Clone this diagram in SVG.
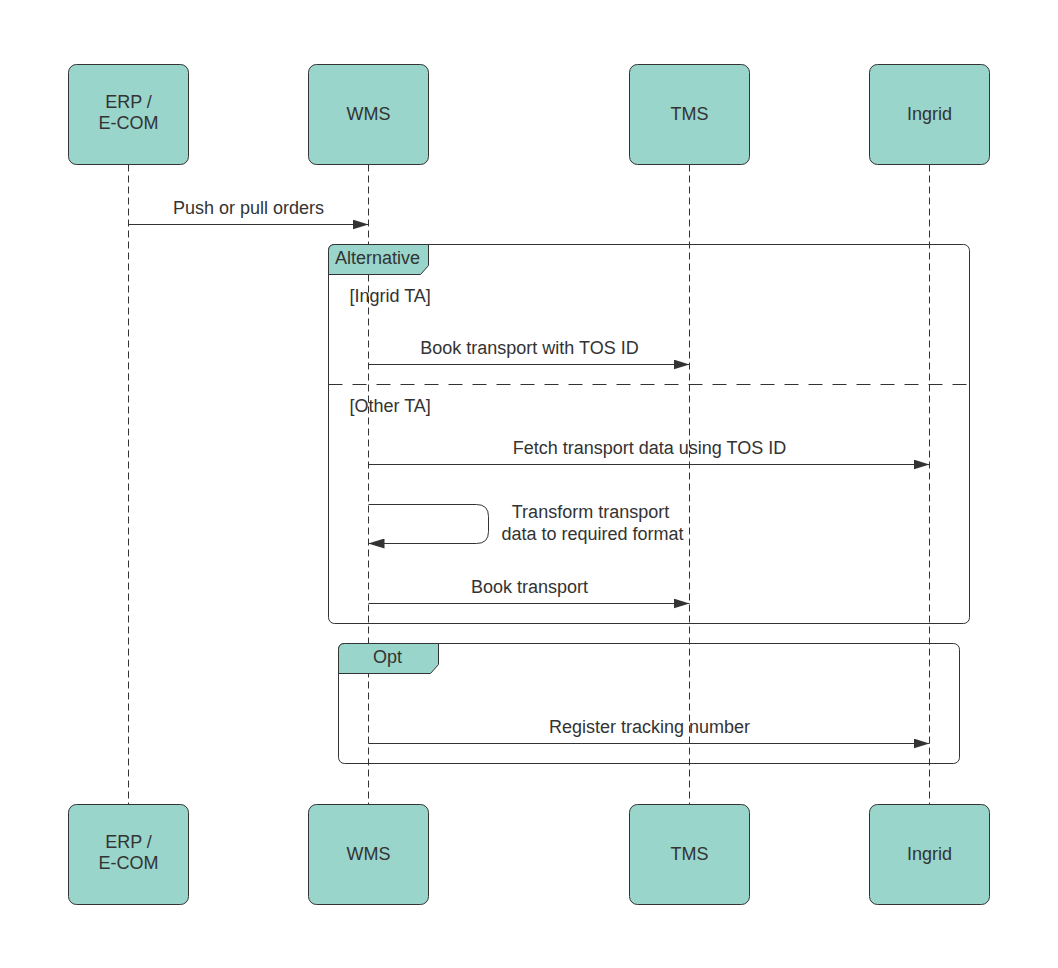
<svg xmlns="http://www.w3.org/2000/svg" width="1058" height="968" viewBox="0 0 1058 968">
<style>
.node{fill:#99d5ca;stroke:#333;stroke-width:1}
.t{font-family:"Liberation Sans",Arial,sans-serif;font-size:18px;fill:#333;text-anchor:middle}
.tl{font-family:"Liberation Sans",Arial,sans-serif;font-size:18px;fill:#333}
.life{stroke:#333;stroke-width:1;stroke-dasharray:7 4;fill:none}
.msg{stroke:#333;stroke-width:1;fill:none}
.frame{stroke:#333;stroke-width:1;fill:none}
.tab{fill:#99d5ca;stroke:#333;stroke-width:1}
</style>
<defs>
<marker id="ah" viewBox="0 0 16 10" refX="16" refY="5" markerWidth="16" markerHeight="10" markerUnits="userSpaceOnUse" orient="auto">
<path d="M0,0 L16,5 L0,10 Z" fill="#333"/>
</marker>
</defs>
<rect width="1058" height="968" fill="#fff"/>
<g transform="translate(0.5,0.5)">
<g id="lifelines">
<line class="life" x1="128" y1="164" x2="128" y2="804"/>
<line class="life" x1="368" y1="164" x2="368" y2="804"/>
<line class="life" x1="689" y1="164" x2="689" y2="804"/>
<line class="life" x1="929" y1="164" x2="929" y2="804"/>
</g>
<g id="frame-alt">
<rect class="frame" x="328" y="244" width="641" height="379" rx="6"/>
<path class="tab" d="M328,274 L328,250 Q328,244 334,244 L428,244 L428,265 L420,274 Z"/>
<text class="t" x="377" y="263">Alternative</text>
<line x1="328" y1="384" x2="969" y2="384" stroke="#333" stroke-width="1" stroke-dasharray="14 10"/>
<text class="tl" x="349" y="301">[Ingrid TA]</text>
<text class="tl" x="349" y="411">[Other TA]</text>
</g>
<g id="frame-opt">
<rect class="frame" x="338" y="643" width="621" height="120" rx="6"/>
<path class="tab" d="M338,673 L338,649 Q338,643 344,643 L438,643 L438,664 L430,673 Z"/>
<text class="t" x="387" y="662">Opt</text>
</g>
<g id="connectors">
<line class="msg" x1="128" y1="224" x2="368" y2="224" marker-end="url(#ah)"/>
<text class="t" x="248" y="213">Push or pull orders</text>
<line class="msg" x1="368" y1="364" x2="689" y2="364" marker-end="url(#ah)"/>
<text class="t" x="529" y="353">Book transport with TOS ID</text>
<line class="msg" x1="368" y1="464" x2="929" y2="464" marker-end="url(#ah)"/>
<text class="t" x="649" y="453">Fetch transport data using TOS ID</text>
<path class="msg" d="M368,504 L476,504 Q488,504 488,516 L488,531 Q488,543 476,543 L368,543" marker-end="url(#ah)"/>
<text class="t" x="590" y="517">Transform transport</text>
<text class="t" x="592" y="539">data to required format</text>
<line class="msg" x1="368" y1="603" x2="689" y2="603" marker-end="url(#ah)"/>
<text class="t" x="529" y="592">Book transport</text>
<line class="msg" x1="368" y1="743" x2="929" y2="743" marker-end="url(#ah)"/>
<text class="t" x="649" y="732">Register tracking number</text>
</g>
<g id="erp-top"><rect class="node" x="68" y="64" width="120" height="100" rx="8"/><text class="t" x="128" y="107">ERP /</text><text class="t" x="128" y="128">E-COM</text></g>
<g id="wms-top"><rect class="node" x="308" y="64" width="120" height="100" rx="8"/><text class="t" x="368" y="119">WMS</text></g>
<g id="tms-top"><rect class="node" x="629" y="64" width="120" height="100" rx="8"/><text class="t" x="689" y="119">TMS</text></g>
<g id="ingrid-top"><rect class="node" x="869" y="64" width="120" height="100" rx="8"/><text class="t" x="929" y="119">Ingrid</text></g>
<g id="erp-bottom"><rect class="node" x="68" y="804" width="120" height="100" rx="8"/><text class="t" x="128" y="847">ERP /</text><text class="t" x="128" y="868">E-COM</text></g>
<g id="wms-bottom"><rect class="node" x="308" y="804" width="120" height="100" rx="8"/><text class="t" x="368" y="859">WMS</text></g>
<g id="tms-bottom"><rect class="node" x="629" y="804" width="120" height="100" rx="8"/><text class="t" x="689" y="859">TMS</text></g>
<g id="ingrid-bottom"><rect class="node" x="869" y="804" width="120" height="100" rx="8"/><text class="t" x="929" y="859">Ingrid</text></g>
</g>
</svg>
